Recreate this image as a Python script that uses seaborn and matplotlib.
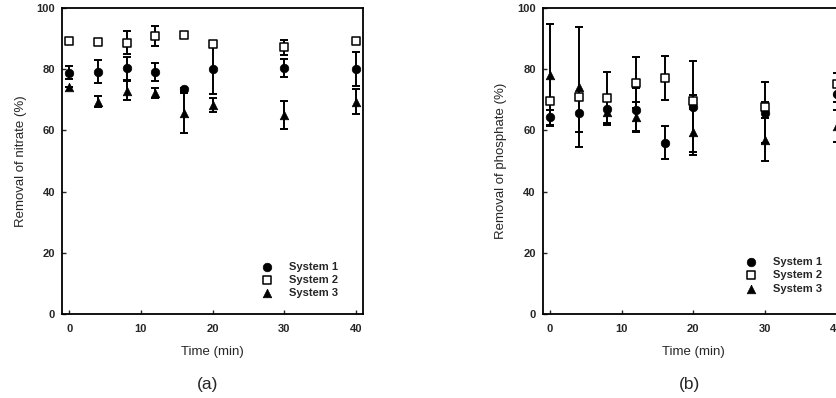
import matplotlib
matplotlib.use("Agg")
import matplotlib.pyplot as plt
import seaborn as sns
import pandas as pd

# time points (min)
time = [0, 4, 8, 12, 16, 20, 30, 40]

# (a) removal of nitrate (%)
nit_s1 = [78.9, 79.2, 80.3, 79.0, 73.5, 80.0, 80.3, 80.0]
nit_s1_err = [2.2, 3.8, 3.7, 3.0, 0.5, 8.0, 3.0, 5.6]
nit_s2 = [89.3, 89.0, 88.7, 90.8, 91.2, 88.1, 87.1, 89.3]
nit_s2_err = [0.0, 0.0, 3.8, 3.3, 1.0, 0.0, 2.4, 0.0]
nit_s3 = [74.3, 69.4, 72.9, 72.3, 65.6, 68.3, 65.0, 69.4]
nit_s3_err = [0.0, 1.9, 3.1, 1.6, 6.6, 2.4, 4.6, 4.2]

# (b) removal of phosphate (%)
pho_s1 = [64.3, 65.6, 66.9, 66.7, 56.0, 67.8, 65.8, 71.8]
pho_s1_err = [2.5, 6.0, 4.5, 7.0, 5.5, 15.0, 10.0, 2.5]
pho_s2 = [69.7, 71.0, 70.5, 75.6, 77.2, 69.7, 67.8, 75.2]
pho_s2_err = [0.0, 0.0, 8.5, 8.3, 7.2, 2.0, 1.5, 3.5]
pho_s3 = [78.1, 74.1, 66.1, 64.5, 73.5, 59.6, 56.9, 61.4]
pho_s3_err = [16.7, 19.6, 4.5, 4.9, 0.0, 7.5, 7.0, 5.3]
pho_s3_show = [True, True, True, True, False, True, True, True]

labels = ["System 1", "System 2", "System 3"]

sns.set_style("ticks")
plt.rcParams['font.family'] = ['Liberation Sans', 'DejaVu Sans']

fig = plt.figure(figsize=(8.37, 3.98), dpi=100)
ax1 = fig.add_axes([0.0741, 0.211, 0.3596, 0.769])
ax2 = fig.add_axes([0.6484, 0.211, 0.3596, 0.769])


def draw_panel(ax, s1, e1, s2, e2, s3, e3, ylabel, keep3=None):
    styles = [
        (s1, e1, dict(marker='o', color='black', edgecolor='black', s=38)),
        (s2, e2, dict(marker='s', color='white', edgecolor='black', s=26, linewidth=1.1)),
        (s3, e3, dict(marker='^', color='black', edgecolor='black', s=38)),
    ]
    for i, (vals, errs, kw) in enumerate(styles):
        t = time
        if i == 2 and keep3 is not None:
            t = [x for x, k in zip(time, keep3) if k]
            vals = [v for v, k in zip(vals, keep3) if k]
            errs = [v for v, k in zip(errs, keep3) if k]
        ax.errorbar(t, vals, yerr=errs, fmt='none', ecolor='black',
                    elinewidth=1.4, capsize=2.6, capthick=1.4, zorder=2)
        df = pd.DataFrame({'t': t, 'v': vals})
        sns.scatterplot(data=df, x='t', y='v', ax=ax, label=labels[i],
                        zorder=3, **kw)
    ax.set_xlim(-1, 41)
    ax.set_ylim(0, 100)
    ax.set_xticks([0, 10, 20, 30, 40])
    ax.set_yticks([0, 20, 40, 60, 80, 100])
    ax.tick_params(direction='in', length=3, width=1, labelsize=8)
    ax.tick_params(axis='x', pad=7)
    ax.tick_params(axis='y', pad=5)
    for lab in ax.get_xticklabels() + ax.get_yticklabels():
        lab.set_fontweight('bold')
    for sp in ax.spines.values():
        sp.set_linewidth(1.3)
        sp.set_color('black')
    ax.set_xlabel("Time (min)", fontsize=9.5, labelpad=9)
    ax.set_ylabel(ylabel, fontsize=9.5, labelpad=7)
    leg = ax.legend(loc='lower right', bbox_to_anchor=(0.94, 0.03), frameon=False,
                    fontsize=8, handletextpad=1.0, labelspacing=0.3,
                    borderaxespad=0.2)
    for txt in leg.get_texts():
        txt.set_fontweight('bold')
    return ax


draw_panel(ax1, nit_s1, nit_s1_err, nit_s2, nit_s2_err, nit_s3, nit_s3_err,
           "Removal of nitrate (%)")
draw_panel(ax2, pho_s1, pho_s1_err, pho_s2, pho_s2_err, pho_s3, pho_s3_err,
           "Removal of phosphate (%)", keep3=pho_s3_show)
ax2.legend_.set_bbox_to_anchor((0.95, 0.045))

fig.text(0.2475, 0.033, "(a)", fontsize=12.5, ha='center', va='center')
fig.text(0.824, 0.033, "(b)", fontsize=12.5, ha='center', va='center')

fig.savefig("out.png", dpi=100)
